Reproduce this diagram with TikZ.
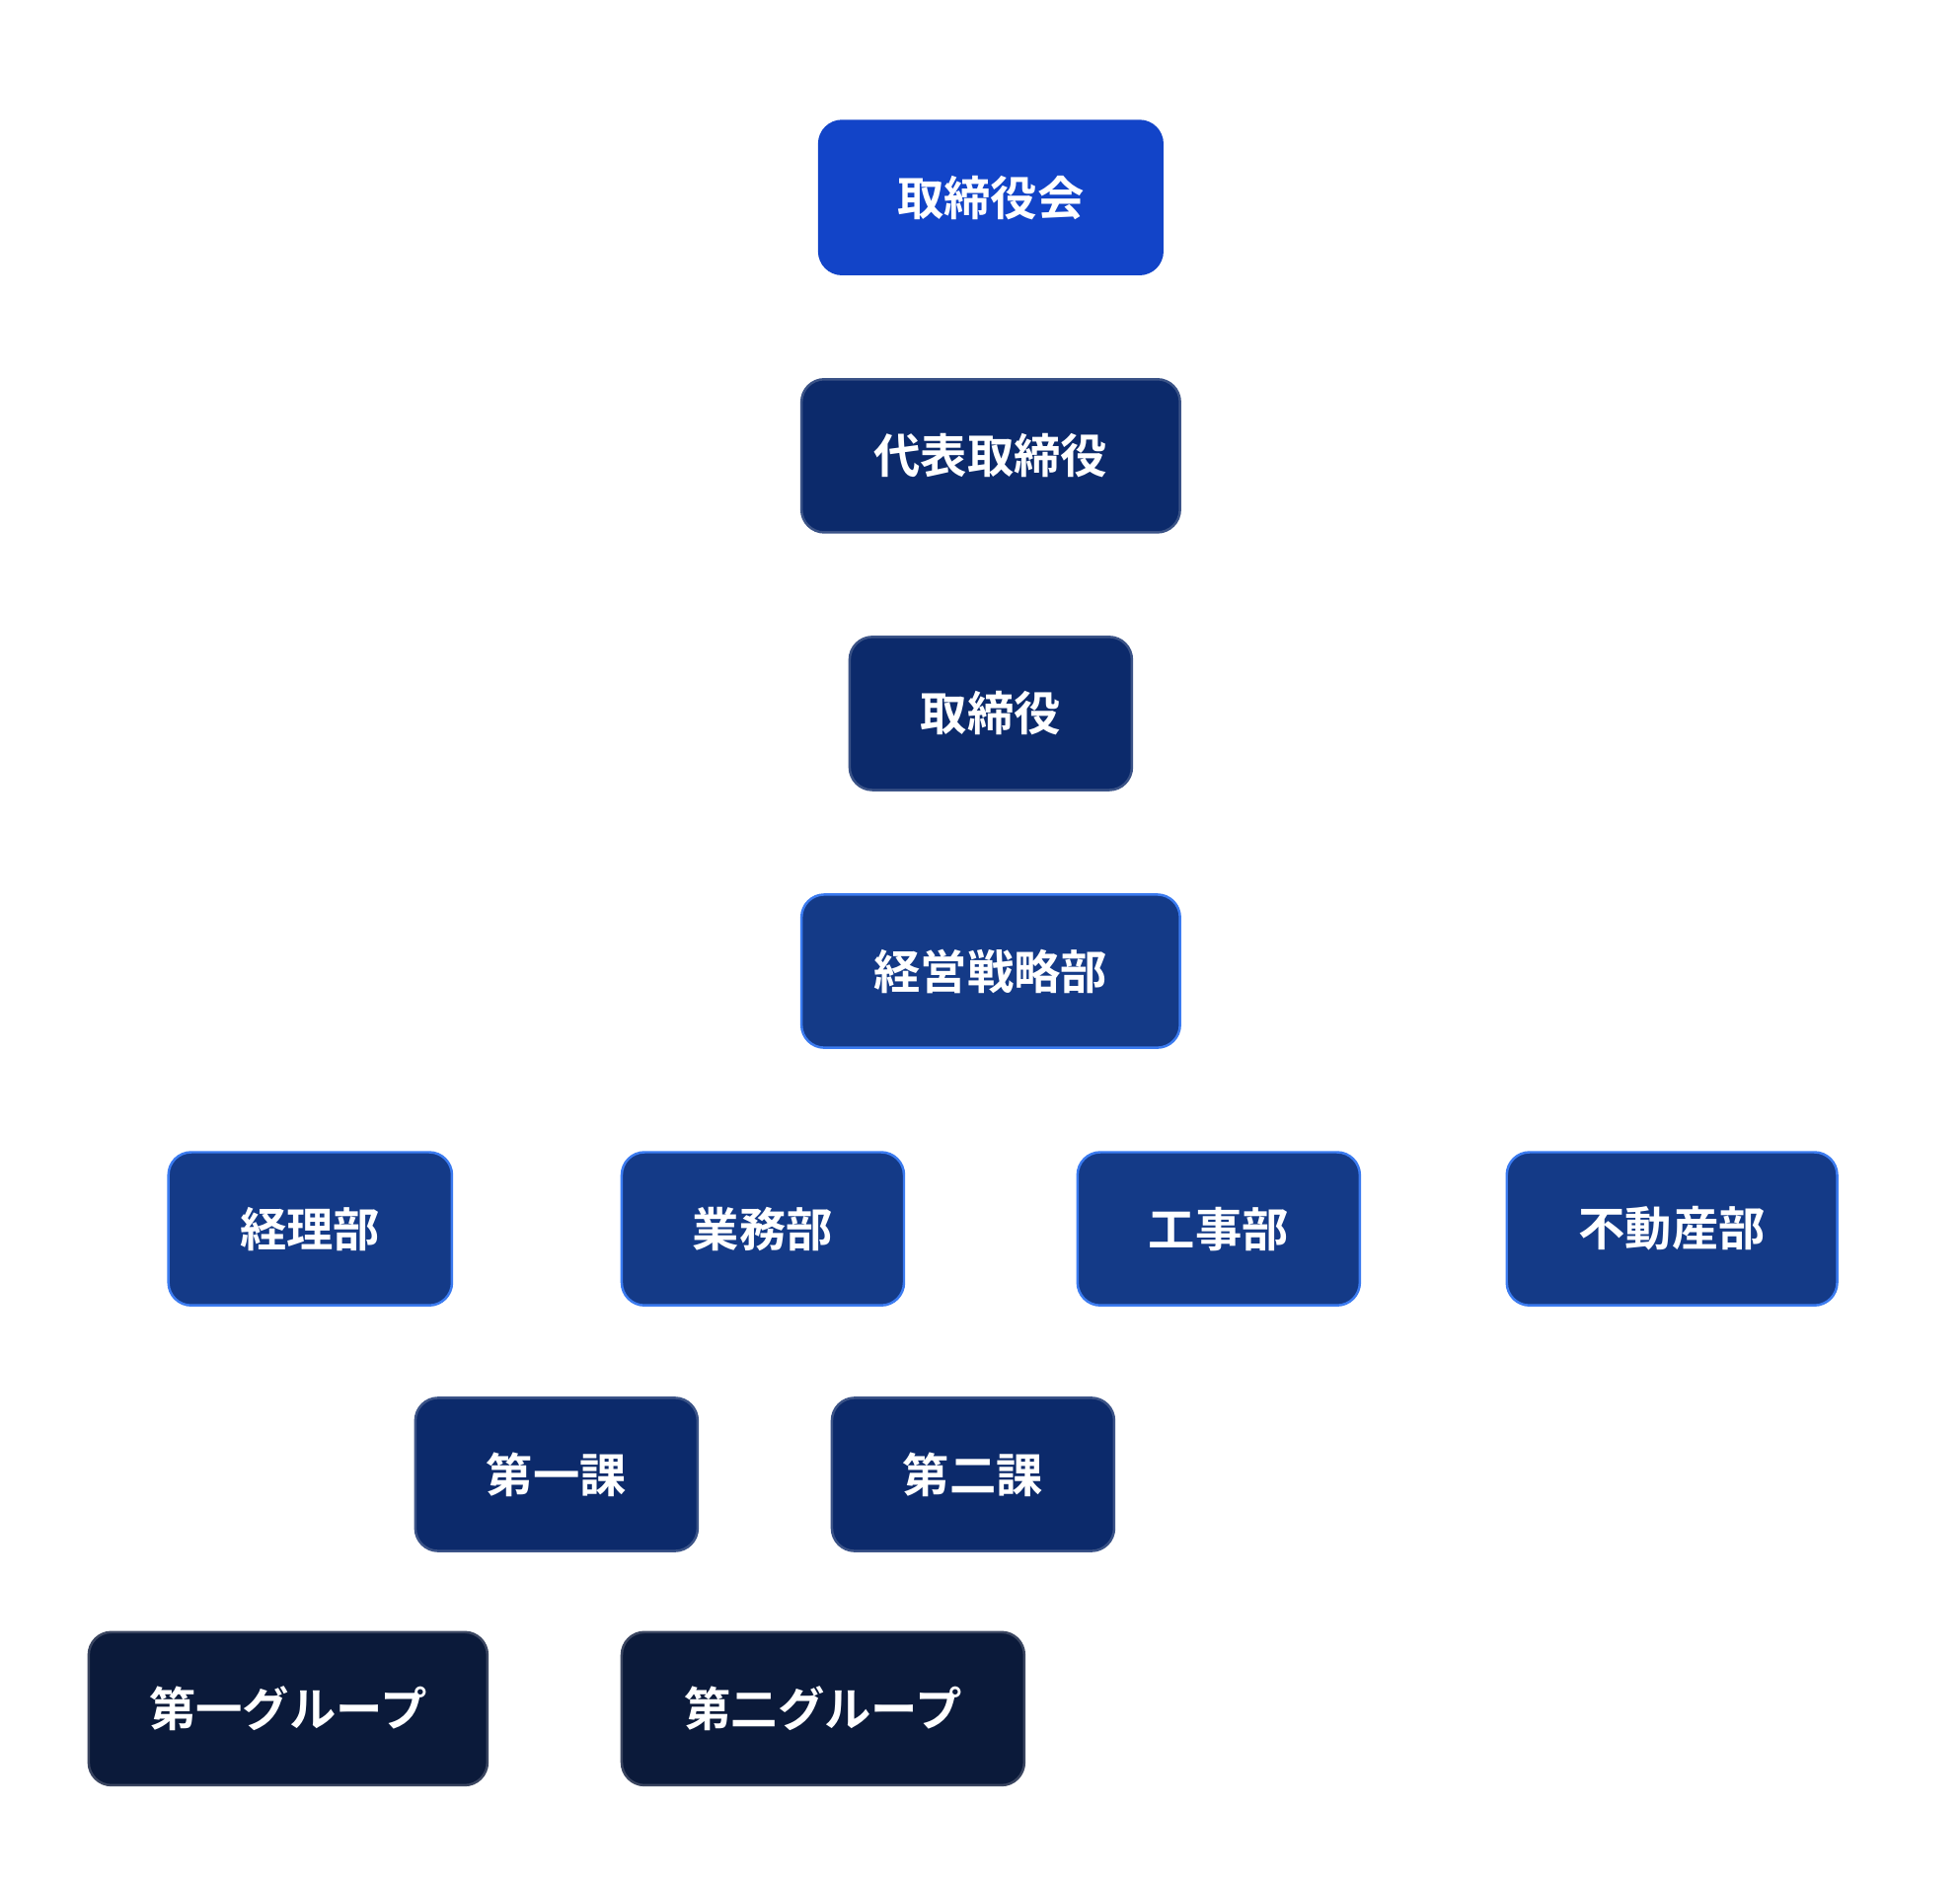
\documentclass[tikz,border=0pt]{standalone}
\usepackage{fontspec}
\newfontfamily\jp{Noto Sans CJK JP Bold}
\definecolor{cTop}{HTML}{1244C8}
\definecolor{cExec}{HTML}{0C2A6B}
\definecolor{cExecB}{HTML}{3B5387}
\definecolor{cDept}{HTML}{143A87}
\definecolor{cDeptB}{HTML}{3B7BF0}
\definecolor{cGrp}{HTML}{0B1A3A}
\definecolor{cGrpB}{HTML}{3A4560}
\begin{document}
\begin{tikzpicture}[x=0.02cm,y=-0.02cm,
  box/.style={rounded corners=0.36cm, line width=1.1pt, text=white, font=\jp\fontsize{21}{24}\selectfont, minimum height=2.42cm, inner sep=0pt},
  top/.style={box, fill=cTop, draw=cTop},
  exec/.style={box, fill=cExec, draw=cExecB},
  dept/.style={box, fill=cDept, draw=cDeptB},
  grp/.style={box, fill=cGrp, draw=cGrpB}]
\useasboundingbox (0,0) rectangle (1548,1487);
\node[top, minimum width=5.42cm] (board) at (782.5,156) {取締役会};
\node[exec, minimum width=5.98cm] (ceo) at (782.5,360) {代表取締役};
\node[exec, minimum width=4.46cm] (dir) at (782.5,563.5) {取締役};
\node[dept, minimum width=5.98cm] (strat) at (782.5,767) {経営戦略部};
\node[dept, minimum width=4.48cm] (acc) at (245,970.5) {経理部};
\node[dept, minimum width=4.46cm] (ops) at (602.5,970.5) {業務部};
\node[dept, minimum width=4.46cm] (eng) at (962.5,970.5) {工事部};
\node[dept, minimum width=5.22cm] (re) at (1320.5,970.5) {不動産部};
\node[exec, minimum width=4.46cm] (s1) at (439.5,1164.5) {第一課};
\node[exec, minimum width=4.46cm] (s2) at (768.5,1164.5) {第二課};
\node[grp, minimum width=6.3cm] (g1) at (227.5,1349.5) {第一グループ};
\node[grp, minimum width=6.36cm] (g2) at (650,1349.5) {第二グループ};
\end{tikzpicture}
\end{document}
